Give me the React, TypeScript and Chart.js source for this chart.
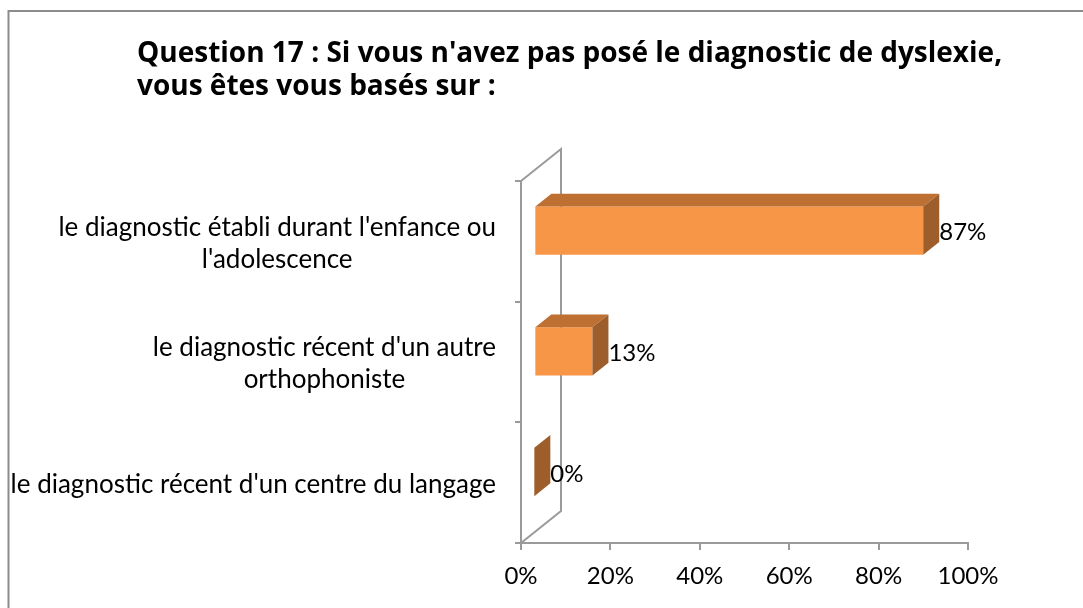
import { useEffect, useRef } from 'react';
import { Chart, registerables } from 'chart.js';

Chart.register(...registerables);

const titleLines = [
  "Question 17 : Si vous n'avez pas posé le diagnostic de dyslexie,",
  'vous êtes vous basés sur :',
];
const categoryLines = [
  ["le diagnostic établi durant l'enfance ou", "l'adolescence"],
  ["le diagnostic récent d'un autre", 'orthophoniste'],
  ["le diagnostic récent d'un centre du langage"],
];
const values = [87, 13, 0];
const valueLabels = ['87%', '13%', '0%'];
const xMin = 0;
const xMax = 100;
const xStep = 20;

const FONT = 'Lato, "Open Sans", sans-serif';
const TITLE_FONT = '"Open Sans", Lato, sans-serif';
const AXIS_COLOR = '#9a9a9a';
const FRONT = '#F79646';
const TOP = '#BE7033';
const SIDE = '#9D5E2B';
const DEPTH_X = 40;
const DEPTH_Y = -32;
const BAR_FRONT = 1 / 3;
const BAR_DEPTH = 0.4;

const threeD = {
  id: 'threeD',
  beforeDatasetsDraw(chart: any) {
    const { ctx, chartArea } = chart;
    const { left, top, bottom } = chartArea;
    ctx.save();
    ctx.strokeStyle = AXIS_COLOR;
    ctx.lineWidth = 2;
    ctx.beginPath();
    ctx.moveTo(left, top);
    ctx.lineTo(left + DEPTH_X, top + DEPTH_Y);
    ctx.lineTo(left + DEPTH_X, bottom + DEPTH_Y);
    ctx.lineTo(left, bottom);
    ctx.stroke();
    ctx.restore();
    ctx.save();
    ctx.translate(DEPTH_X * BAR_FRONT, DEPTH_Y * BAR_FRONT);
  },
  afterDatasetsDraw(chart: any) {
    const { ctx } = chart;
    ctx.restore();
    const fx = DEPTH_X * BAR_FRONT;
    const fy = DEPTH_Y * BAR_FRONT;
    const bx = DEPTH_X * BAR_DEPTH;
    const by = DEPTH_Y * BAR_DEPTH;
    const meta = chart.getDatasetMeta(0);
    meta.data.forEach((bar: any, i: number) => {
      const { x, y, base, height } = bar.getProps(['x', 'y', 'base', 'height'], true);
      const l = base + fx;
      const r = x + fx;
      const t = y - height / 2 + fy;
      const b = y + height / 2 + fy;
      ctx.save();
      ctx.fillStyle = TOP;
      ctx.beginPath();
      ctx.moveTo(l, t);
      ctx.lineTo(l + bx, t + by);
      ctx.lineTo(r + bx, t + by);
      ctx.lineTo(r, t);
      ctx.closePath();
      ctx.fill();
      ctx.fillStyle = SIDE;
      ctx.beginPath();
      ctx.moveTo(r, t);
      ctx.lineTo(r + bx, t + by);
      ctx.lineTo(r + bx, b + by);
      ctx.lineTo(r, b);
      ctx.closePath();
      ctx.fill();
      ctx.fillStyle = '#000';
      ctx.font = `24px ${FONT}`;
      ctx.textAlign = 'left';
      ctx.textBaseline = 'middle';
      ctx.fillText(valueLabels[i], r + bx, y + fy + 2);
      ctx.restore();
    });
  },
  afterDraw(chart: any) {
    const { ctx } = chart;
    const yScale = chart.scales.y;
    ctx.save();
    // outer chart border
    ctx.strokeStyle = '#8c8c8c';
    ctx.lineWidth = 2;
    ctx.beginPath();
    ctx.moveTo(8.5, 2000);
    ctx.lineTo(8.5, 11);
    ctx.lineTo(2000, 11);
    ctx.stroke();
    // title
    ctx.fillStyle = '#000';
    ctx.font = `bold 28px ${TITLE_FONT}`;
    ctx.textAlign = 'left';
    ctx.textBaseline = 'alphabetic';
    titleLines.forEach((line, i) => ctx.fillText(line, 137, 62 + i * 33));
    // category labels
    ctx.font = `26px ${FONT}`;
    ctx.textBaseline = 'middle';
    ctx.textAlign = 'center';
    const rightEdge = 496;
    const lh = 32;
    categoryLines.forEach((lines, i) => {
      const cy = yScale.getPixelForValue(i) + 2;
      const maxW = Math.max(...lines.map((s) => ctx.measureText(s).width));
      const cx = rightEdge - maxW / 2;
      const y0 = cy - ((lines.length - 1) * lh) / 2;
      lines.forEach((s, j) => ctx.fillText(s, cx, y0 + j * lh));
    });
    ctx.restore();
  },
};

export default function App() {
  const ref = useRef<HTMLCanvasElement>(null);
  useEffect(() => {
    if (!ref.current) return;
    const chart = new Chart(ref.current, {
      type: 'bar',
      data: {
        labels: categoryLines.map((l) => l.join(' ')),
        datasets: [
          {
            data: values,
            backgroundColor: FRONT,
            borderWidth: 0,
            barPercentage: 0.4,
            categoryPercentage: 1,
          },
        ],
      },
      options: {
        indexAxis: 'y',
        animation: false,
        responsive: false,
        devicePixelRatio: 1,
        layout: { padding: { top: 181, right: 115, left: 0, bottom: 0 } },
        plugins: {
          legend: { display: false },
          tooltip: { enabled: false },
          title: { display: false },
        },
        scales: {
          x: {
            type: 'linear',
            min: xMin,
            max: xMax,
            ticks: {
              stepSize: xStep,
              callback: (v: any) => `${v}%`,
              font: { family: FONT, size: 24 },
              color: '#000',
              padding: 12,
            },
            grid: { drawOnChartArea: false, tickLength: 7, color: AXIS_COLOR, lineWidth: 2 },
            border: { display: true, color: AXIS_COLOR, width: 2 },
            afterFit: (s: any) => {
              s.height = 65;
            },
          },
          y: {
            type: 'category',
            offset: true,
            ticks: { display: false },
            grid: { offset: true, drawOnChartArea: false, tickLength: 6, color: AXIS_COLOR, lineWidth: 2 },
            border: { display: true, color: AXIS_COLOR, width: 2 },
            afterFit: (s: any) => {
              s.width = 521;
            },
          },
        },
      },
      plugins: [threeD],
    });
    return () => chart.destroy();
  }, []);
  return (
    <div style={{ position: 'fixed', left: 0, top: 0, width: 1083, height: 608, background: '#fff' }}>
      <canvas ref={ref} width={1083} height={608} />
    </div>
  );
}
